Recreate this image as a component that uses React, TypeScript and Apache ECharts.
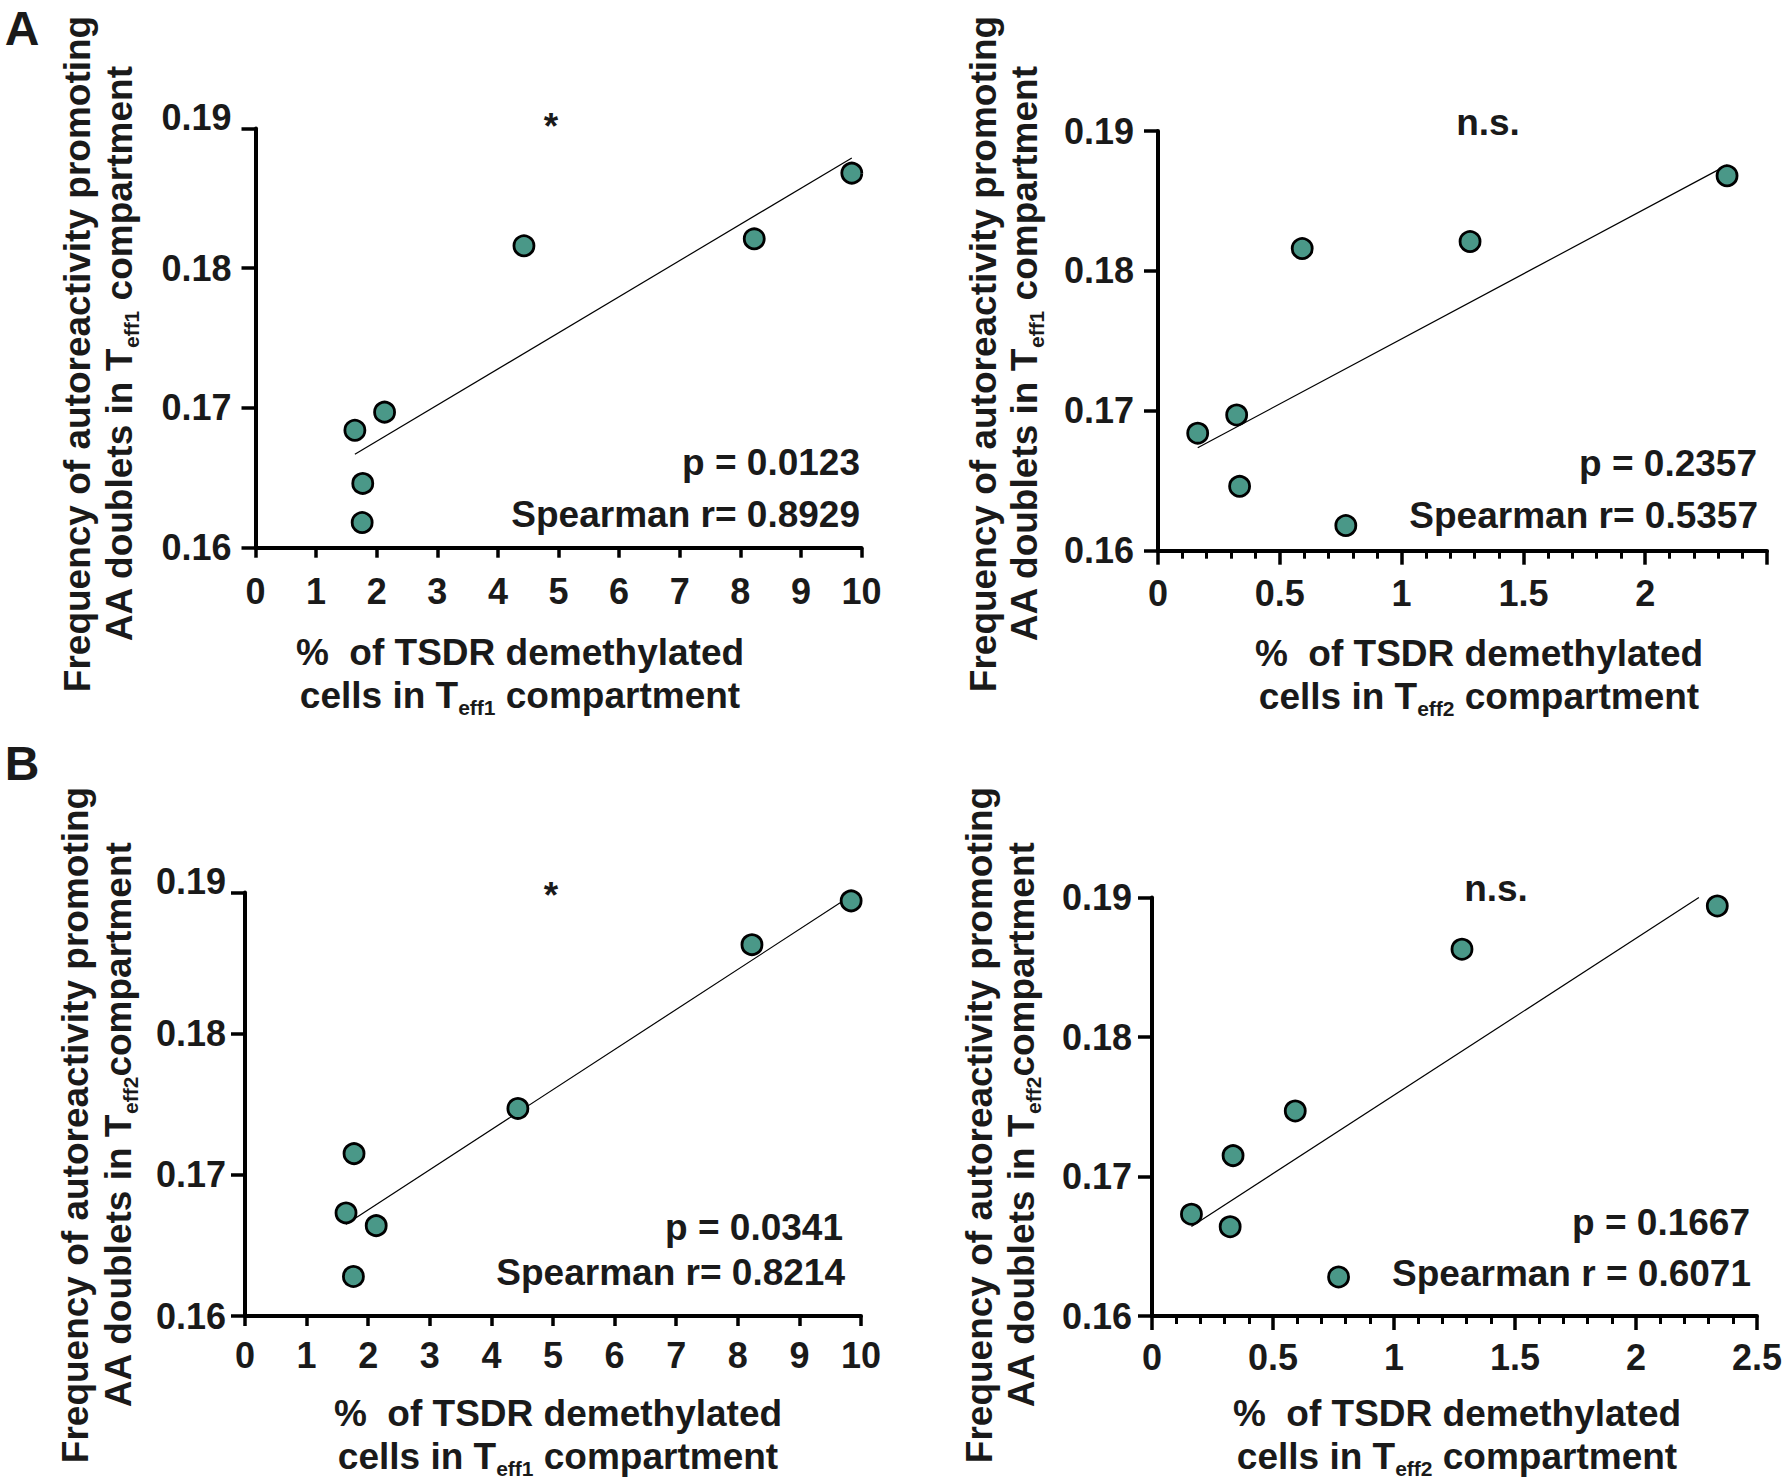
import React, { useEffect, useRef } from "react";
import * as echarts from "echarts";

// ---------- data ----------
// one entry per donor
const tsdrTeff1 = [1.64, 2.13, 1.77, 1.76, 4.43, 8.23, 9.84];
const tsdrTeff2 = [0.163, 0.323, 0.335, 0.771, 0.592, 1.281, 2.336];
const freqTeff1 = [0.1684, 0.1697, 0.1646, 0.1618, 0.1816, 0.1821, 0.1868];
const freqTeff2 = [0.1673, 0.1664, 0.1715, 0.1628, 0.1747, 0.1863, 0.1894];

// regression line end points as drawn in the picture
const fitA1X = [1.64, 9.84];
const fitA1Y = [0.16668, 0.18789];
const fitA2X = [0.163, 2.336];
const fitA2Y = [0.16736, 0.18756];
const fitB1X = [1.64, 9.83];
const fitB1Y = [0.1665, 0.18974];
const fitB2X = [0.163, 2.26];
const fitB2Y = [0.16642, 0.19];

// axis ticks
const yTicks = [0.16, 0.17, 0.18, 0.19];
const xTicksTeff1 = [0, 1, 2, 3, 4, 5, 6, 7, 8, 9, 10];
const xTicksTeff2 = [0, 0.5, 1, 1.5, 2, 2.5];

// statistics
const pValues = ["0.0123", "0.2357", "0.0341", "0.1667"];
const spearmanR = ["0.8929", "0.5357", "0.8214", "0.6071"];
const significance = ["*", "n.s.", "*", "n.s."];
const panelLetters = ["A", "B"];

// ---------- styling ----------
const FONT = '"Liberation Sans", Arial, Helvetica, sans-serif';
const INK = "#1a1a1a";
const DOT = "#4a9888";

type Panel = {
  grid: { left: number; top: number; right: number; bottom: number };
  xs: number[];
  ys: number[];
  fitX: number[];
  fitY: number[];
  xTicks: number[];
  minorTicks: boolean;
  xTickLen: number;
  hideLastX: boolean;
  shiftTopY: boolean;
  yLabelMargin: number;
  xLabelMargin: number;
  sig: [number, number];
  p: [number, number];
  sp: [number, number];
  spGap: string;
  xTitle: [number, number, number];
  xSub: string;
  yTitle: [number, number, number];
  ySub: string;
  ySubSpace: string;
};

const panels: Panel[] = [
  {
    grid: { left: 255.5, top: 128.4, right: 861.5, bottom: 547.7 },
    xs: tsdrTeff1, ys: freqTeff1, fitX: fitA1X, fitY: fitA1Y,
    xTicks: xTicksTeff1, minorTicks: false, xTickLen: 10, hideLastX: false,
    shiftTopY: true, yLabelMargin: 24, xLabelMargin: 26,
    sig: [551, 126], p: [860, 462], sp: [860, 514], spGap: "",
    xTitle: [520, 652, 695], xSub: "eff1",
    yTitle: [354, 77, 119], ySub: "eff1", ySubSpace: " ",
  },
  {
    grid: { left: 1158, top: 131, right: 1767, bottom: 550.7 },
    xs: tsdrTeff2, ys: freqTeff1, fitX: fitA2X, fitY: fitA2Y,
    xTicks: xTicksTeff2, minorTicks: true, xTickLen: 14, hideLastX: true,
    shiftTopY: false, yLabelMargin: 24, xLabelMargin: 25,
    sig: [1488, 122], p: [1757, 463], sp: [1758, 515], spGap: "",
    xTitle: [1479, 653, 696], xSub: "eff2",
    yTitle: [354, 983, 1024], ySub: "eff1", ySubSpace: " ",
  },
  {
    grid: { left: 245, top: 892.4, right: 861, bottom: 1316 },
    xs: tsdrTeff1, ys: freqTeff2, fitX: fitB1X, fitY: fitB1Y,
    xTicks: xTicksTeff1, minorTicks: false, xTickLen: 10, hideLastX: false,
    shiftTopY: true, yLabelMargin: 19, xLabelMargin: 21,
    sig: [551, 895], p: [843, 1227], sp: [845, 1272], spGap: "",
    xTitle: [558, 1413, 1456], xSub: "eff1",
    yTitle: [1125, 75, 118], ySub: "eff2", ySubSpace: "",
  },
  {
    grid: { left: 1152, top: 897.6, right: 1761, bottom: 1316 },
    xs: tsdrTeff2, ys: freqTeff2, fitX: fitB2X, fitY: fitB2Y,
    xTicks: xTicksTeff2, minorTicks: true, xTickLen: 14, hideLastX: false,
    shiftTopY: false, yLabelMargin: 20, xLabelMargin: 23,
    sig: [1496, 888], p: [1750, 1222], sp: [1751, 1273], spGap: " ",
    xTitle: [1457, 1413, 1456], xSub: "eff2",
    yTitle: [1125, 979, 1021], ySub: "eff2", ySubSpace: "",
  },
];

const MAIN = 37;
const SUB = 21;
const subRich = {
  m: { fontSize: MAIN, fontWeight: "bold", fontFamily: FONT, fill: INK, color: INK, lineHeight: 46, verticalAlign: "middle" },
  s: { fontSize: SUB, fontWeight: "bold", fontFamily: FONT, fill: INK, color: INK, lineHeight: 21, verticalAlign: "bottom" },
};

function textEl(text: string, x: number, y: number, align: string, extra: any = {}) {
  return {
    type: "text",
    x,
    y,
    silent: true,
    ...extra,
    style: {
      text,
      fontSize: MAIN,
      fontWeight: "bold",
      fontFamily: FONT,
      fill: INK,
      align,
      verticalAlign: "middle",
      ...(extra.style || {}),
    },
  };
}

function buildOption() {
  const grid: any[] = [];
  const xAxis: any[] = [];
  const yAxis: any[] = [];
  const series: any[] = [];
  const graphic: any[] = [];

  panels.forEach((p, i) => {
    grid.push({
      left: p.grid.left,
      top: p.grid.top,
      width: p.grid.right - p.grid.left,
      height: p.grid.bottom - p.grid.top,
      containLabel: false,
    });
    const xStep = +(p.xTicks[1] - p.xTicks[0]).toFixed(4);
    xAxis.push({
      gridIndex: i,
      type: "value",
      min: p.xTicks[0],
      max: p.xTicks[p.xTicks.length - 1],
      interval: xStep,
      axisLine: { show: true, onZero: false, lineStyle: { color: "#000", width: 4 } },
      axisTick: { show: true, length: p.xTickLen, lineStyle: { color: "#000", width: 3.5 } },
      minorTick: { show: p.minorTicks, splitNumber: 5, length: 8, lineStyle: { color: "#000", width: 3 } },
      splitLine: { show: false },
      minorSplitLine: { show: false },
      axisLabel: {
        margin: p.xLabelMargin,
        fontSize: 36,
        fontWeight: "bold",
        fontFamily: FONT,
        color: INK,
        hideOverlap: false,
        formatter: (v: number) =>
          p.hideLastX && Math.abs(v - p.xTicks[p.xTicks.length - 1]) < 1e-9 ? "" : String(+v.toFixed(2)),
      },
    });
    const yStep = +(yTicks[1] - yTicks[0]).toFixed(4);
    yAxis.push({
      gridIndex: i,
      type: "value",
      min: yTicks[0],
      max: yTicks[yTicks.length - 1],
      interval: yStep,
      axisLine: { show: true, onZero: false, lineStyle: { color: "#000", width: 4 } },
      axisTick: { show: true, length: 14, lineStyle: { color: "#000", width: 3.5 } },
      splitLine: { show: false },
      axisLabel: {
        margin: p.yLabelMargin,
        fontSize: 36,
        fontWeight: "bold",
        fontFamily: FONT,
        color: INK,
        formatter: (v: number) => {
          const s = v.toFixed(2);
          return p.shiftTopY && Math.abs(v - yTicks[yTicks.length - 1]) < 1e-9 ? `{t|${s}}` : s;
        },
        rich: {
          t: { fontSize: 36, fontWeight: "bold", fontFamily: FONT, color: INK, padding: [0, 0, 22, 0] },
        },
      },
    });
    series.push({
      type: "line",
      xAxisIndex: i,
      yAxisIndex: i,
      data: p.fitX.map((x, j) => [x, p.fitY[j]]),
      symbol: "none",
      lineStyle: { color: "#000", width: 1.2 },
      silent: true,
      z: 2,
    });
    series.push({
      type: "scatter",
      xAxisIndex: i,
      yAxisIndex: i,
      data: p.xs.map((x, j) => [x, p.ys[j]]),
      symbol: "circle",
      symbolSize: 20,
      itemStyle: { color: DOT, borderColor: "#000", borderWidth: 2.8, opacity: 1 },
      silent: true,
      z: 3,
    });

    // annotations
    graphic.push(textEl(significance[i], p.sig[0], p.sig[1], "center"));
    graphic.push(textEl(`p = ${pValues[i]}`, p.p[0], p.p[1], "right"));
    graphic.push(textEl(`Spearman r${p.spGap}= ${spearmanR[i]}`, p.sp[0], p.sp[1], "right"));

    // x title
    graphic.push(textEl("%  of TSDR demethylated", p.xTitle[0], p.xTitle[1], "center"));
    graphic.push(
      textEl(`{m|cells in T}{s|${p.xSub}}{m| compartment}`, p.xTitle[0], p.xTitle[2], "center", {
        style: { rich: subRich },
      })
    );

    // y title (rotated)
    graphic.push(
      textEl("Frequency of autoreactivity promoting", p.yTitle[1], p.yTitle[0], "center", {
        rotation: Math.PI / 2,
      })
    );
    graphic.push(
      textEl(`{m|AA doublets in T}{s|${p.ySub}}{m|${p.ySubSpace}compartment}`, p.yTitle[2], p.yTitle[0], "center", {
        rotation: Math.PI / 2,
        style: { rich: subRich },
      })
    );
  });

  graphic.push(textEl(panelLetters[0], 22, 28, "center", { style: { fontSize: 48 } }));
  graphic.push(textEl(panelLetters[1], 22, 763, "center", { style: { fontSize: 48 } }));

  return {
    animation: false,
    backgroundColor: "#ffffff",
    grid,
    xAxis,
    yAxis,
    series,
    graphic: { elements: graphic },
  };
}

export default function App() {
  const ref = useRef<HTMLDivElement>(null);
  useEffect(() => {
    document.body.style.margin = "0";
    if (!ref.current) return;
    const chart = echarts.init(ref.current, undefined, { renderer: "svg" });
    chart.setOption(buildOption() as any);
    return () => {
      chart.dispose();
    };
  }, []);
  return <div ref={ref} style={{ width: 1785, height: 1482, background: "#fff" }} />;
}
